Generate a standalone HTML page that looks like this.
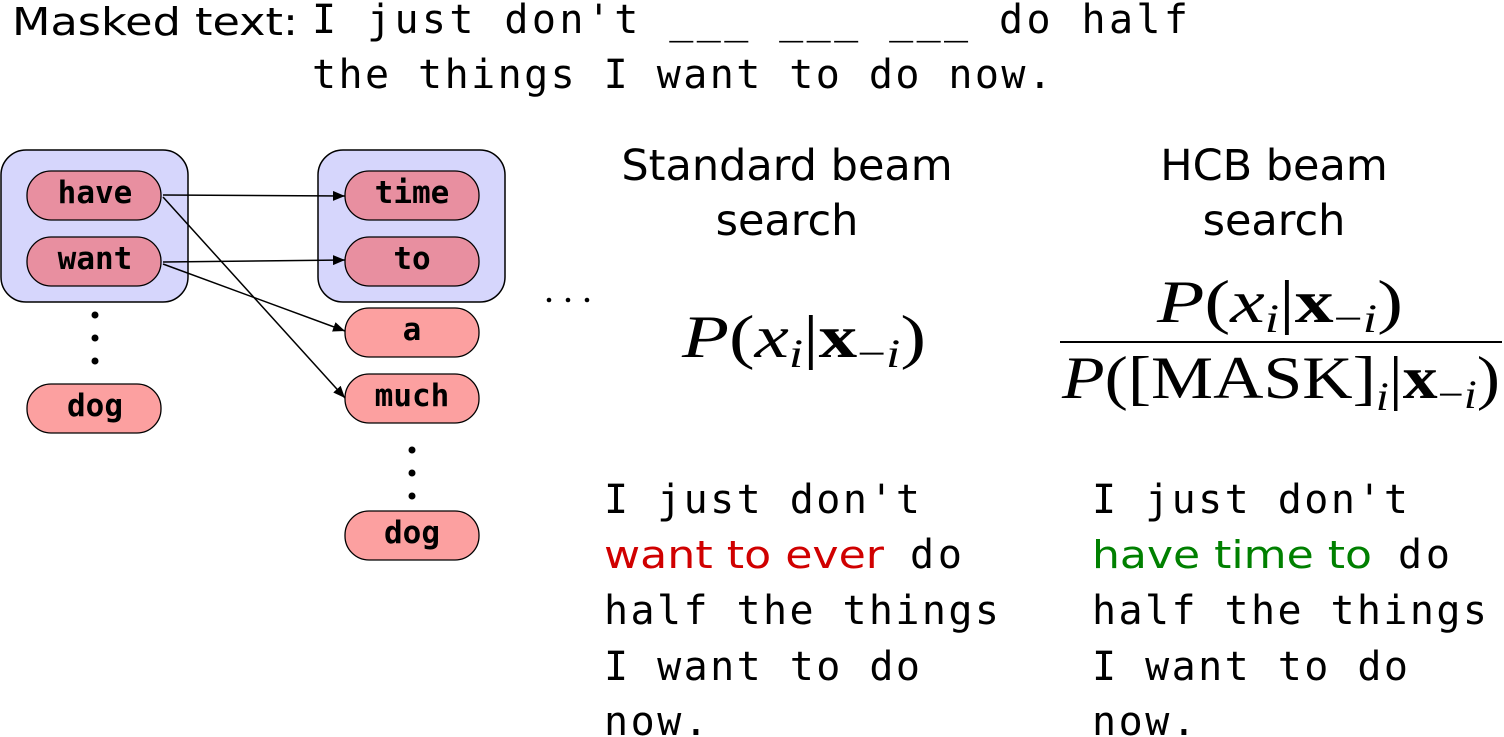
<!DOCTYPE html>
<html><head><meta charset="utf-8"><style>
html,body{margin:0;padding:0;background:#fff;width:1504px;height:737px;overflow:hidden}
svg text{font-family:"DejaVu Sans","Liberation Sans",sans-serif}
.m{font-family:"DejaVu Sans Mono","Liberation Mono",monospace;font-size:40px;fill:#000}
.b{font-family:"DejaVu Sans Mono","Liberation Mono",monospace;font-size:31px;font-weight:bold;fill:#000}
.s{font-size:43px;fill:#000}
.f{font-family:"Liberation Serif",serif;font-size:60px;fill:#000;font-weight:normal}
</style></head><body>
<svg width="1504" height="737" viewBox="0 0 1504 737" xmlns="http://www.w3.org/2000/svg">
<defs><marker id="ah" markerWidth="12" markerHeight="10" refX="12" refY="5" orient="auto" markerUnits="userSpaceOnUse"><path d="M0,0 L12,5 L0,10 z" fill="#000"/></marker></defs>
<text x="12" y="35" font-size="38" textLength="286" lengthAdjust="spacingAndGlyphs">Masked text:</text>
<text class="m" x="312" y="33" textLength="876" lengthAdjust="spacing">I just don't ___ ___ ___  do half</text>
<text class="m" x="312" y="88" textLength="740" lengthAdjust="spacing">the things I want to do now.</text>

<rect x="1" y="150" width="187" height="152" rx="25" fill="#d6d6fc" stroke="#000" stroke-width="1.5"/>
<rect x="318" y="150" width="187" height="152" rx="25" fill="#d6d6fc" stroke="#000" stroke-width="1.5"/>
<g stroke="#000" stroke-width="1.3">
<rect x="27" y="171" width="134" height="49" rx="24" fill="#e88fa0"/>
<rect x="27" y="237" width="134" height="49" rx="24" fill="#e88fa0"/>
<rect x="27" y="384" width="134" height="49" rx="24" fill="#fca0a0"/>
<rect x="345" y="171" width="134" height="49" rx="24" fill="#e88fa0"/>
<rect x="345" y="237" width="134" height="49" rx="24" fill="#e88fa0"/>
<rect x="345" y="308" width="134" height="49" rx="24" fill="#fca0a0"/>
<rect x="345" y="374" width="134" height="49" rx="24" fill="#fca0a0"/>
<rect x="345" y="511" width="134" height="49" rx="24" fill="#fca0a0"/>
</g>
<g text-anchor="middle">
<text class="b" x="95" y="203">have</text>
<text class="b" x="95" y="269">want</text>
<text class="b" x="95" y="416">dog</text>
<text class="b" x="412" y="203">time</text>
<text class="b" x="412" y="269">to</text>
<text class="b" x="412" y="340">a</text>
<text class="b" x="412" y="406">much</text>
<text class="b" x="412" y="543">dog</text>
</g>
<g fill="#000">
<circle cx="95" cy="315" r="3.5"/><circle cx="95" cy="338" r="3.5"/><circle cx="95" cy="361" r="3.5"/>
<circle cx="412" cy="450" r="3.5"/><circle cx="412" cy="473" r="3.5"/><circle cx="412" cy="496" r="3.5"/>
</g>
<g stroke="#000" stroke-width="1.5" marker-end="url(#ah)">
<line x1="163" y1="195" x2="345" y2="196"/>
<line x1="163" y1="197" x2="345" y2="398"/>
<line x1="163" y1="262" x2="345" y2="260"/>
<line x1="163" y1="264" x2="345" y2="331"/>
</g>
<g fill="#000"><circle cx="549" cy="300" r="2.3"/><circle cx="568" cy="300" r="2.3"/><circle cx="587" cy="300" r="2.3"/></g>

<g text-anchor="middle">
<text class="s" x="787" y="180">Standard beam</text>
<text class="s" x="787" y="235">search</text>
<text class="s" x="1274" y="180">HCB beam</text>
<text class="s" x="1274" y="235">search</text>
</g>

<text class="f" x="682" y="357" textLength="244" lengthAdjust="spacingAndGlyphs"><tspan font-style="italic">P</tspan>(<tspan font-style="italic">x</tspan><tspan font-style="italic" font-size="40" dy="10">i</tspan><tspan dy="-10">|</tspan><tspan font-weight="bold">x</tspan><tspan font-size="40" dy="10">−<tspan font-style="italic">i</tspan></tspan><tspan dy="-10">)</tspan></text>
<text class="f" x="1157" y="322" textLength="246" lengthAdjust="spacingAndGlyphs"><tspan font-style="italic">P</tspan>(<tspan font-style="italic">x</tspan><tspan font-style="italic" font-size="40" dy="10">i</tspan><tspan dy="-10">|</tspan><tspan font-weight="bold">x</tspan><tspan font-size="40" dy="10">−<tspan font-style="italic">i</tspan></tspan><tspan dy="-10">)</tspan></text>
<line x1="1060" y1="342" x2="1502" y2="342" stroke="#000" stroke-width="2"/>
<text class="f" x="1062" y="398" textLength="438" lengthAdjust="spacingAndGlyphs"><tspan font-style="italic">P</tspan>([MASK]<tspan font-style="italic" font-size="40" dy="12">i</tspan><tspan dy="-12">|</tspan><tspan font-weight="bold">x</tspan><tspan font-size="40" dy="10">−<tspan font-style="italic">i</tspan></tspan><tspan dy="-10">)</tspan></text>

<text class="m" x="604" y="513" textLength="316" lengthAdjust="spacing">I just don't</text>
<text x="604" y="568" font-size="38" fill="#d00000" textLength="280" lengthAdjust="spacingAndGlyphs">want to ever</text>
<text class="m" x="910" y="568" textLength="52" lengthAdjust="spacing">do</text>
<text class="m" x="604" y="624" textLength="395" lengthAdjust="spacing">half the things</text>
<text class="m" x="604" y="680" textLength="316" lengthAdjust="spacing">I want to do</text>
<text class="m" x="604" y="735" textLength="104" lengthAdjust="spacing">now.</text>

<text class="m" x="1092" y="513" textLength="316" lengthAdjust="spacing">I just don't</text>
<text x="1092" y="568" font-size="38" fill="#008000" textLength="280" lengthAdjust="spacingAndGlyphs">have time to</text>
<text class="m" x="1398" y="568" textLength="52" lengthAdjust="spacing">do</text>
<text class="m" x="1092" y="624" textLength="395" lengthAdjust="spacing">half the things</text>
<text class="m" x="1092" y="680" textLength="316" lengthAdjust="spacing">I want to do</text>
<text class="m" x="1092" y="735" textLength="104" lengthAdjust="spacing">now.</text>
</svg>
</body></html>
